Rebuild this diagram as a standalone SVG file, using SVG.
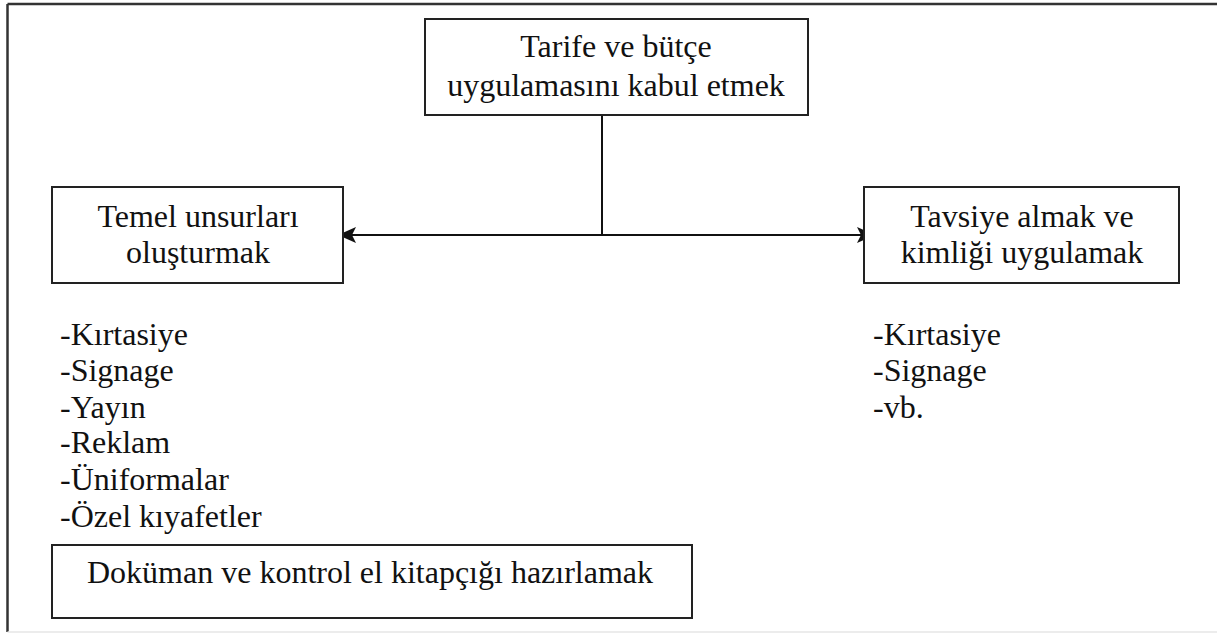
<svg xmlns="http://www.w3.org/2000/svg" width="1217" height="634" viewBox="0 0 1217 634">
  <style>
    .box { fill: #ffffff; stroke: #222222; stroke-width: 2; }
    .lbl { font-family: "Liberation Serif", "Times New Roman", serif; font-size: 32px; fill: #111111; }
    .mid { text-anchor: middle; }
    .conn { fill: none; stroke: #111111; stroke-width: 2; }
    .head { fill: #111111; stroke: none; }
  </style>

  <rect x="0" y="0" width="1217" height="634" fill="#ffffff"/>

  <!-- page frame -->
  <g id="frame">
    <line x1="7.5" y1="4" x2="1217" y2="4" stroke="#333333" stroke-width="2.5"/>
    <line x1="7.5" y1="4" x2="7.5" y2="632" stroke="#333333" stroke-width="2.5"/>
    <line x1="7.5" y1="632" x2="1217" y2="632" stroke="#e6e6e6" stroke-width="1.5"/>
  </g>

  <!-- connectors: trunk from the top box, split left and right -->
  <g id="connectors">
    <line class="conn" x1="602" y1="115" x2="602" y2="235"/>
    <line class="conn" x1="352" y1="235" x2="862" y2="235"/>
    <path class="head" d="M338,235 L356,227 L352,235 L356,243 Z"/>
    <path class="head" d="M875,235 L857,227 L861,235 L857,243 Z"/>
  </g>

  <g id="node-budget">
    <rect class="box" x="425" y="19" width="383" height="96"/>
    <text class="lbl mid" x="616" y="57">Tarife ve bütçe</text>
    <text class="lbl mid" x="616" y="96">uygulamasını kabul etmek</text>
  </g>

  <g id="node-elements">
    <rect class="box" x="52" y="187" width="291" height="96"/>
    <text class="lbl mid" x="198" y="227">Temel unsurları</text>
    <text class="lbl mid" x="198" y="263">oluşturmak</text>
  </g>

  <g id="node-identity">
    <rect class="box" x="864" y="187" width="315" height="96"/>
    <text class="lbl mid" x="1022" y="227">Tavsiye almak ve</text>
    <text class="lbl mid" x="1022" y="263">kimliği uygulamak</text>
  </g>

  <g id="list-elements">
    <text class="lbl" x="60" y="345">-Kırtasiye</text>
    <text class="lbl" x="60" y="381">-Signage</text>
    <text class="lbl" x="60" y="418">-Yayın</text>
    <text class="lbl" x="60" y="453">-Reklam</text>
    <text class="lbl" x="60" y="490">-Üniformalar</text>
    <text class="lbl" x="60" y="527">-Özel kıyafetler</text>
  </g>

  <g id="list-identity">
    <text class="lbl" x="873" y="345">-Kırtasiye</text>
    <text class="lbl" x="873" y="381">-Signage</text>
    <text class="lbl" x="873" y="418">-vb.</text>
  </g>

  <g id="node-manual">
    <rect class="box" x="52" y="545" width="640" height="73"/>
    <text class="lbl mid" x="370" y="583">Doküman ve kontrol el kitapçığı hazırlamak</text>
  </g>
</svg>
